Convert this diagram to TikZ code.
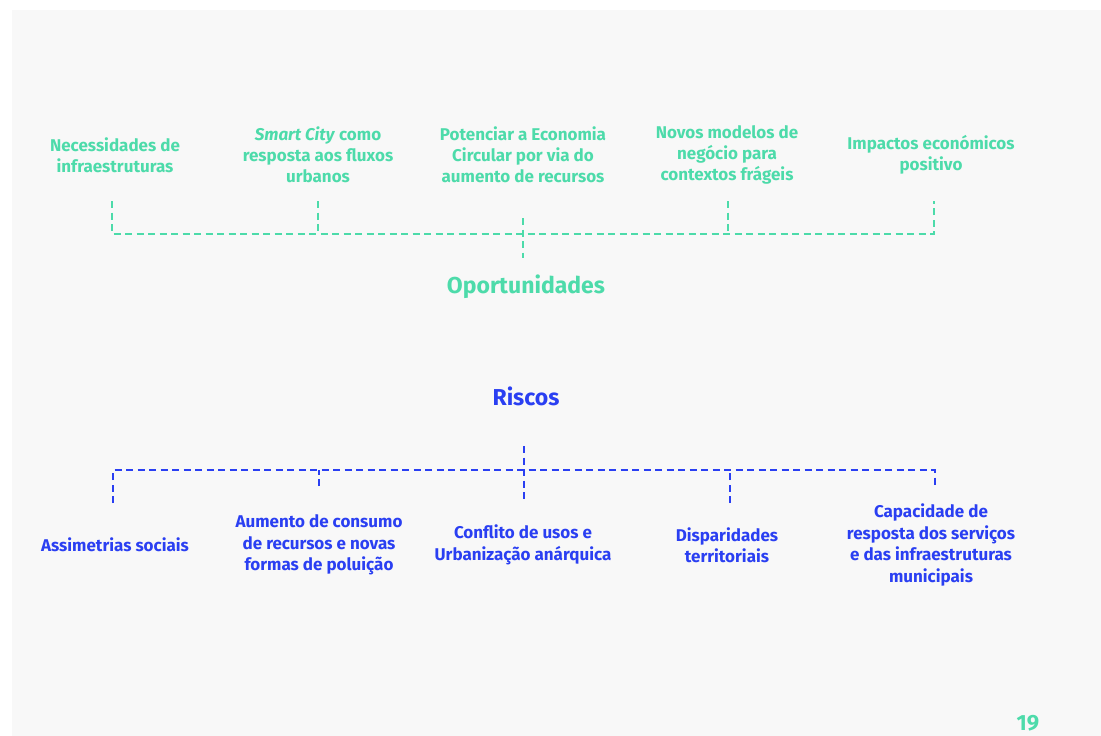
\documentclass[tikz,border=0pt]{standalone}
\usepackage{fontspec}
\setmainfont{Fira Sans}
\usepackage{xcolor}
\definecolor{mint}{HTML}{4DDBAA}
\definecolor{riskblue}{HTML}{2A3FF2}
\definecolor{pagegray}{HTML}{F8F8F8}
\tikzstyle{dashline} = [line width=2.6pt,dash pattern=on 7pt off 4.5pt]

\begin{document}
\begin{tikzpicture}
        [
            x=1pt,y=-1pt,
            opp/.style={text=mint,align=center,font=\fontsize{17}{21}\selectfont\bfseries},
            risk/.style={text=riskblue,align=center,font=\fontsize{17}{21.5}\selectfont\bfseries},
            head/.style={align=center,font=\fontsize{23}{26}\selectfont\bfseries},
        ]
    \useasboundingbox (0,0) rectangle (1101,736);
    \fill[pagegray] (12,10) rectangle (1101,736);

    % oportunidades
    \node[opp] (opp1) at (115,155) {Necessidades de\\infraestruturas};
    \node[opp] (opp2) at (318,155) {\emph{Smart City} como\\resposta aos fluxos\\urbanos};
    \node[opp] (opp3) at (523,155) {Potenciar a Economia\\Circular por via do\\aumento de recursos};
    \node[opp] (opp4) at (727,155) {Novos modelos de\\negócio para\\contextos frágeis};
    \node[opp] (opp5) at (931,155) {Impactos económicos\\positivo};
    \node[head,text=mint] (oport) at (526,287) {Oportunidades};

    \foreach \n/\x in {1/112,2/318,4/728,5/934}
        \coordinate (ot\n) at (\x,201);
    \coordinate (obar) at (523,234);
    \coordinate (otop) at (523,218);
    \coordinate (obot) at (523,258);
    \draw[dashline,mint] (ot1) -- (ot1 |- obar) -- (ot5 |- obar) -- (ot5);
    \draw[dashline,mint] (ot2) -- (ot2 |- obar);
    \draw[dashline,mint] (ot4) -- (ot4 |- obar);
    \draw[dashline,mint] (otop) -- (obot);

    % riscos
    \node[head,text=riskblue] (riscos) at (526,396) {Riscos};
    \node[risk] (risk1) at (115,545) {Assimetrias sociais};
    \node[risk] (risk2) at (319,545) {Aumento de consumo\\de recursos e novas\\formas de poluição};
    \node[risk] (risk3) at (523,545) {Conflito de usos e\\Urbanização anárquica};
    \node[risk] (risk4) at (727,545) {Disparidades\\territoriais};
    \node[risk] (risk5) at (931,545) {Capacidade de\\resposta dos serviços\\e das infraestruturas\\municipais};

    \coordinate (rt1) at (113,503);
    \coordinate (rt2) at (319,486);
    \coordinate (rt4) at (730,503);
    \coordinate (rt5) at (935,486);
    \coordinate (rbar) at (524,470);
    \coordinate (rtop) at (524,446);
    \coordinate (rbot) at (524,503);
    \draw[dashline,riskblue] (rt1) -- (rt1 |- rbar) -- (rt5 |- rbar) -- (rt5);
    \draw[dashline,riskblue] (rt2) -- (rt2 |- rbar);
    \draw[dashline,riskblue] (rt4) -- (rt4 |- rbar);
    \draw[dashline,riskblue] (rtop) -- (rbot);

    \node[text=mint,font=\fontsize{22}{24}\selectfont\bfseries] (pagenum) at (1028,723) {19};
\end{tikzpicture}
\end{document}
